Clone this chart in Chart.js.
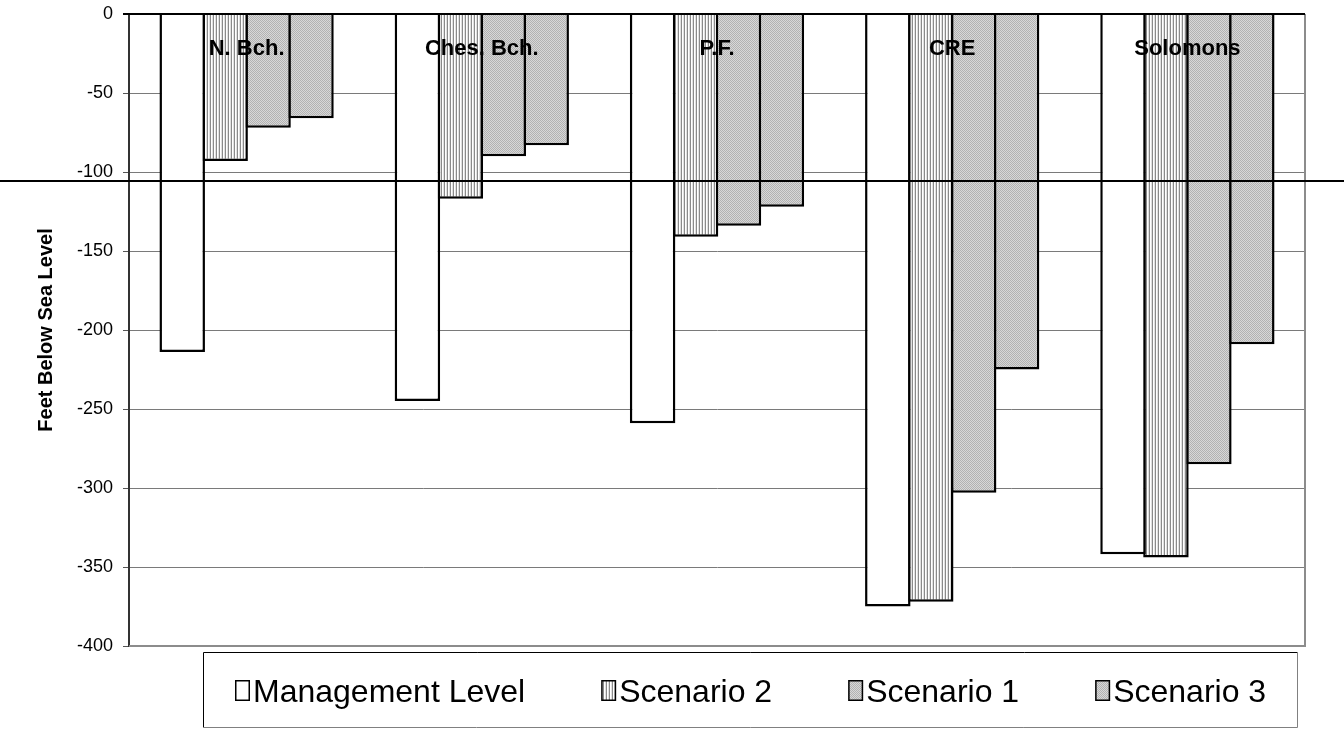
<!DOCTYPE html>
<html>
<head>
<meta charset="utf-8">
<script src="https://cdn.jsdelivr.net/npm/chart.js@4"></script>
<style>
  html, body { margin: 0; padding: 0; background: #fff; }
  #wrap { width: 1344px; height: 729px; }
</style>
</head>
<body>
<div id="wrap"><canvas id="myChart" width="1344" height="729"></canvas></div>
<script>
// stations (written along the top of the plot)
var stations = ['N. Bch.', 'Ches. Bch.', 'P.F.', 'CRE', 'Solomons'];

// feet below sea level for each series
var managementLevel = [-214, -245, -259, -375, -342];
var scenario2 = [-93, -117, -141, -372, -344];
var scenario1 = [-72, -90, -134, -303, -285];
var scenario3 = [-66, -83, -122, -225, -209];

var yTicks = { min: -400, max: 0, step: 50 };
var seaLevelLine = -106;

var FONT = '"Liberation Sans", Arial, sans-serif';

// small fills like the old spreadsheet patterns
function stripePattern() {
    var c = document.createElement('canvas');
    c.width = 3; c.height = 1;
    var g = c.getContext('2d');
    g.fillStyle = '#ffffff'; g.fillRect(0, 0, 3, 1);
    g.fillStyle = '#8a8a8a'; g.fillRect(0, 0, 1, 1);
    g.fillStyle = '#e0e0e0'; g.fillRect(2, 0, 1, 1);
    return g.createPattern(c, 'repeat');
}

function ditherPattern() {
    var c = document.createElement('canvas');
    c.width = 2; c.height = 2;
    var g = c.getContext('2d');
    g.fillStyle = '#b2b2b2'; g.fillRect(0, 0, 2, 2);
    g.fillStyle = '#d8d8d8'; g.fillRect(1, 0, 1, 1); g.fillRect(0, 1, 1, 1);
    return g.createPattern(c, 'repeat');
}

var stripes = stripePattern();
var dither = ditherPattern();

// category names written inside the top of the plot
var stationLabels = {
    id: 'stationLabels',
    afterDatasetsDraw: function (chart) {
        var ctx = chart.ctx;
        var xs = chart.scales.x;
        ctx.save();
        ctx.font = 'bold 22px ' + FONT;
        ctx.fillStyle = '#000';
        ctx.textAlign = 'center';
        ctx.textBaseline = 'alphabetic';
        stations.forEach(function (name, i) {
            ctx.fillText(name, xs.getPixelForValue(i), chart.chartArea.top + 41);
        });
        ctx.restore();
    }
};

// plot frame + long horizontal rule
var decorations = {
    id: 'decorations',
    afterDraw: function (chart) {
        var ctx = chart.ctx;
        var a = chart.chartArea;
        var ys = chart.scales.y;
        ctx.save();

        ctx.strokeStyle = '#8c8c8c';
        ctx.lineWidth = 2;
        ctx.beginPath();
        ctx.moveTo(a.right, a.top);
        ctx.lineTo(a.right, a.bottom);
        ctx.lineTo(a.left, a.bottom);
        ctx.stroke();

        ctx.strokeStyle = '#000';
        ctx.lineWidth = 2;
        ctx.beginPath();
        ctx.moveTo(a.left - 6, a.top);
        ctx.lineTo(a.right, a.top);
        ctx.stroke();

        var yLine = Math.round(ys.getPixelForValue(seaLevelLine));
        ctx.beginPath();
        ctx.moveTo(0, yLine);
        ctx.lineTo(chart.width, yLine);
        ctx.stroke();
        ctx.restore();
    }
};

// boxed legend under the plot, markers filled like the bars
var boxLegend = {
    id: 'boxLegend',
    afterDraw: function (chart) {
        var ctx = chart.ctx;
        var a = chart.chartArea;
        var left = a.left + 74, right = a.right - 7;
        var top = a.bottom + 6, bottom = chart.height - 2;
        var boxW = 15, boxH = 21, gapText = 3, gapItem = 76;

        ctx.save();
        ctx.lineWidth = 1;
        ctx.strokeStyle = '#000';
        ctx.beginPath();
        ctx.moveTo(left + 0.5, bottom);
        ctx.lineTo(left + 0.5, top + 0.5);
        ctx.lineTo(right, top + 0.5);
        ctx.stroke();
        ctx.strokeStyle = '#808080';
        ctx.beginPath();
        ctx.moveTo(right - 0.5, top);
        ctx.lineTo(right - 0.5, bottom + 0.5);
        ctx.lineTo(left, bottom + 0.5);
        ctx.stroke();

        ctx.font = '32px ' + FONT;
        var items = chart.data.datasets.map(function (ds) {
            return { text: ds.label, fill: ds.backgroundColor, w: ctx.measureText(ds.label).width };
        });
        var total = items.reduce(function (s, it) { return s + boxW + gapText + it.w; }, 0) + gapItem * (items.length - 1);
        var x = Math.round((left + right) / 2 - total / 2);
        var midY = (top + bottom) / 2 + 1;

        ctx.textBaseline = 'alphabetic';
        items.forEach(function (it) {
            var by = Math.round(midY - boxH / 2);
            ctx.fillStyle = it.fill;
            ctx.fillRect(x, by, boxW, boxH);
            ctx.strokeStyle = '#000';
            ctx.lineWidth = 1.5;
            ctx.strokeRect(x + 0.75, by + 0.75, boxW - 1.5, boxH - 1.5);
            ctx.fillStyle = '#000';
            ctx.fillText(it.text, x + boxW + gapText, midY + 11.5);
            x += boxW + gapText + it.w + gapItem;
        });
        ctx.restore();
    }
};

var barStyle = { borderColor: '#000000', borderWidth: 2.5 };

var ctx = document.getElementById('myChart').getContext('2d');
var myChart = new Chart(ctx, {
    type: 'bar',
    data: {
        labels: stations,
        datasets: [
            Object.assign({ label: 'Management Level', data: managementLevel, backgroundColor: '#ffffff' }, barStyle),
            Object.assign({ label: 'Scenario 2', data: scenario2, backgroundColor: stripes }, barStyle),
            Object.assign({ label: 'Scenario 1', data: scenario1, backgroundColor: dither }, barStyle),
            Object.assign({ label: 'Scenario 3', data: scenario3, backgroundColor: dither }, barStyle)
        ]
    },
    options: {
        responsive: false,
        animation: false,
        layout: {
            padding: { top: 14, right: 39, left: 0, bottom: 83 }
        },
        datasets: {
            bar: {
                categoryPercentage: 0.73,
                barPercentage: 1.06
            }
        },
        scales: {
            x: {
                display: false
            },
            y: {
                min: yTicks.min,
                max: yTicks.max,
                afterFit: function (scale) {
                    scale.width = 129;
                    scale.paddingTop = 0;
                    scale.paddingBottom = 0;
                },
                ticks: {
                    stepSize: yTicks.step,
                    color: '#000',
                    padding: 10,
                    font: { family: FONT, size: 18 }
                },
                grid: {
                    color: '#7a7a7a',
                    lineWidth: 1,
                    tickLength: 6,
                    tickColor: '#555'
                },
                border: { color: '#333', width: 2 },
                title: {
                    display: true,
                    text: 'Feet Below Sea Level',
                    color: '#000',
                    padding: { top: 34, bottom: 0 },
                    font: { family: FONT, size: 20, weight: 'bold' }
                }
            }
        },
        plugins: {
            tooltip: { enabled: false },
            legend: { display: false }
        }
    },
    plugins: [stationLabels, decorations, boxLegend]
});
</script>
</body>
</html>
